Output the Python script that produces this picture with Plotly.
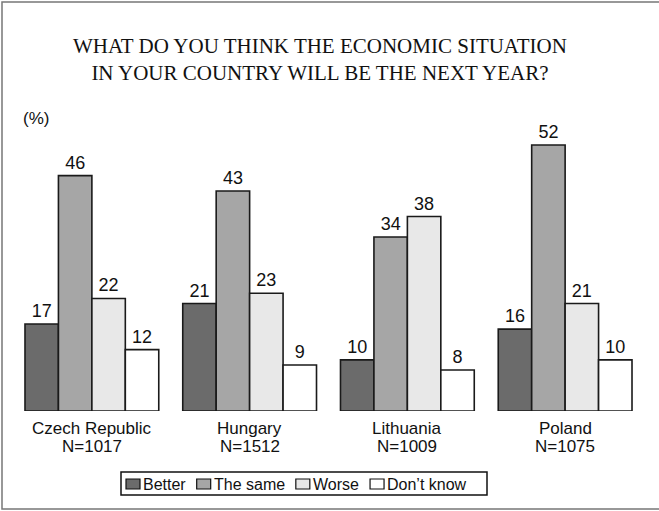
import plotly.graph_objects as go

countries = ["Czech Republic", "Hungary", "Lithuania", "Poland"]
sample_sizes = ["N=1017", "N=1512", "N=1009", "N=1075"]
series_names = ["Better", "The same", "Worse", "Don\u2019t know"]
better = [17, 21, 10, 16]
the_same = [46, 43, 34, 52]
worse = [22, 23, 38, 21]
dont_know = [12, 9, 8, 10]
colors = ["#6b6b6b", "#a6a6a6", "#e8e8e8", "#ffffff"]

values = [better, the_same, worse, dont_know]

fig = go.Figure()
for name, vals, col in zip(series_names, values, colors):
    fig.add_trace(go.Bar(
        x=countries, y=vals, name=name, showlegend=False,
        marker=dict(color=col, line=dict(color="#1a1a1a", width=1.6)),
        text=[str(v) for v in vals], textposition="outside",
        textfont=dict(family="Liberation Sans, Arial", size=18, color="#111111"),
        cliponaxis=False,
    ))

L, R, T, B = 13, 15, 104, 100
W, H = 659, 511
pw, ph = W - L - R, H - T - B

def px(x):
    return (x - L) / pw

def py(y):
    return (H - B - y) / ph

FONT = "Liberation Sans, Arial"
annotations = [
    dict(text="WHAT DO YOU THINK THE ECONOMIC SITUATION<br>IN YOUR COUNTRY WILL BE THE NEXT YEAR?",
         xref="paper", yref="paper", x=px(320), y=py(60), xanchor="center", yanchor="middle",
         showarrow=False,
         font=dict(family="Liberation Serif, Times New Roman", size=21, color="#111111")),
    dict(text="(%)", xref="paper", yref="paper", x=px(21), y=py(118),
         xanchor="left", yanchor="middle", showarrow=False,
         font=dict(family=FONT, size=17, color="#111111")),
]
for c, n in zip(countries, sample_sizes):
    annotations.append(dict(text=c, xref="x", yref="paper", x=c, y=py(428),
                            xanchor="center", yanchor="middle", showarrow=False,
                            font=dict(family=FONT, size=17, color="#111111")))
    annotations.append(dict(text=n, xref="x", yref="paper", x=c, y=py(446),
                            xanchor="center", yanchor="middle", showarrow=False,
                            font=dict(family=FONT, size=17, color="#111111")))

# Compact legend (swatch directly followed by label), laid out in pixels
ARIAL = {"B": 667, "e": 556, "t": 278, "r": 333, "T": 611, "h": 556, " ": 278,
         "s": 500, "a": 556, "m": 833, "W": 944, "o": 556, "D": 722, "n": 556,
         "\u2019": 222, "k": 500, "w": 722}
LEG_FS = 16

def text_w(s):
    return sum(ARIAL.get(ch, 556) for ch in s) * LEG_FS / 1000.0

shapes = [
    dict(type="rect", xref="paper", yref="paper",
         x0=px(2), x1=px(672), y0=py(509), y1=py(2),
         line=dict(color="#777777", width=1.5), fillcolor="rgba(0,0,0,0)", layer="below"),
    dict(type="rect", xref="paper", yref="paper",
         x0=px(121), x1=px(487), y0=py(495), y1=py(472),
         line=dict(color="#111111", width=1.5), fillcolor="white", layer="below"),
]
cx = 126.0
leg_mid = 484.0
for name, col in zip(series_names, colors):
    shapes.append(dict(type="rect", xref="paper", yref="paper",
                       x0=px(cx), x1=px(cx + 14), y0=py(leg_mid + 5), y1=py(leg_mid - 5),
                       line=dict(color="#111111", width=1.2), fillcolor=col))
    tx = cx + 16
    annotations.append(dict(text=name, xref="paper", yref="paper", x=px(tx), y=py(leg_mid),
                            xanchor="left", yanchor="middle", showarrow=False, borderpad=0,
                            font=dict(family=FONT, size=LEG_FS, color="#111111")))
    cx = tx + text_w(name) + 12

fig.update_layout(
    width=W, height=H,
    margin=dict(l=L, r=R, t=T, b=B),
    paper_bgcolor="white", plot_bgcolor="white",
    barmode="group", bargap=0.152, bargroupgap=0,
    showlegend=False,
    xaxis=dict(
        categoryorder="array", categoryarray=countries,
        showticklabels=False,
        showline=False, showgrid=False, zeroline=False, ticks="",
    ),
    yaxis=dict(range=[0, 60], visible=False),
    font=dict(family=FONT),
    shapes=shapes,
    annotations=annotations,
)

fig.write_html("out.html")
